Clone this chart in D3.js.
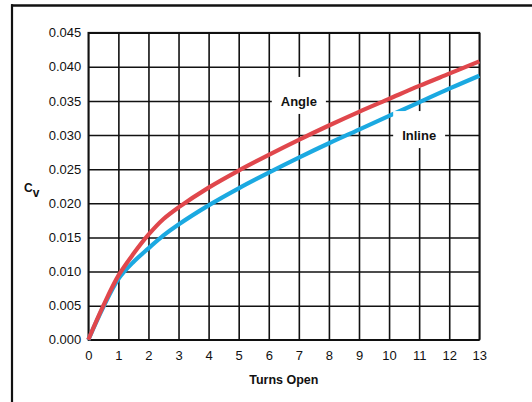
<html><head>
<script src="https://d3js.org/d3.v7.min.js"></script>
<style>
    body { margin: 0; background: #fff; }
    text { font-family: "Liberation Sans", Arial, sans-serif; }
</style>
</head>
<body>
<svg id="chart" width="532" height="402"></svg>
<script>
// values
const turns    = [0, 0.5, 1, 1.5, 2, 2.5, 3, 4, 5, 6, 7, 8, 9, 10, 11, 12, 13];
const angleCv  = [0, 0.0050, 0.0094, 0.0126, 0.0154, 0.0177, 0.0194, 0.0223, 0.0248, 0.0271, 0.0293, 0.0314, 0.0334, 0.0353, 0.0372, 0.0390, 0.0408];
const inlineCv = [0, 0.0048, 0.0089, 0.0114, 0.0134, 0.0153, 0.0169, 0.0197, 0.0222, 0.0245, 0.0267, 0.0288, 0.0308, 0.0328, 0.0348, 0.0368, 0.0387];
const xTicks = [0, 1, 2, 3, 4, 5, 6, 7, 8, 9, 10, 11, 12, 13];
const yTicks = [0, 0.005, 0.010, 0.015, 0.020, 0.025, 0.030, 0.035, 0.040, 0.045];
const seriesLabels = [
    {name: "Angle",  x: 7,  y: 0.035},
    {name: "Inline", x: 11, y: 0.030}
];

const svg = d3.select("#chart");
const margin = {left: 88.3, right: 52.7, top: 32.7, bottom: 62.2};
const w = 532 - margin.left - margin.right;
const h = 402 - margin.top - margin.bottom;

// outer frame: only top and left edges
svg.append("line").attr("x1", 11).attr("x2", 532).attr("y1", 5.5).attr("y2", 5.5)
    .attr("stroke", "#111").attr("stroke-width", 2.5);
svg.append("line").attr("x1", 12).attr("x2", 12).attr("y1", 4.3).attr("y2", 402)
    .attr("stroke", "#111").attr("stroke-width", 2.2);

const g = svg.append("g").attr("transform", `translate(${margin.left},${margin.top})`);

const x = d3.scaleLinear().domain([0, 13]).range([0, w]);
const y = d3.scaleLinear().domain([0, 0.045]).range([h, 0]);

// axes double as grid
const xAxis = g.append("g").attr("transform", `translate(0,${h})`)
    .call(d3.axisBottom(x).tickValues(xTicks).tickFormat(d3.format("d"))
        .tickSizeInner(-h).tickSizeOuter(0).tickPadding(10.5));
const yAxis = g.append("g")
    .call(d3.axisLeft(y).tickValues(yTicks).tickFormat(d3.format(".3f"))
        .tickSizeInner(-w).tickSizeOuter(0).tickPadding(7));

[xAxis, yAxis].forEach(a => {
    a.select(".domain").remove();
    a.selectAll("line").attr("stroke", "#111").attr("stroke-width", 1.6);
    a.selectAll("text").attr("font-size", 13).attr("fill", "#111")
        .attr("font-family", "\"Liberation Sans\", Arial, sans-serif");
});

g.append("rect").attr("width", w).attr("height", h)
    .attr("fill", "none").attr("stroke", "#111").attr("stroke-width", 1.6);

const line = d3.line()
    .x((d, i) => x(turns[i]))
    .y(d => y(d))
    .curve(d3.curveCatmullRom.alpha(0.5));

g.append("path").datum(inlineCv).attr("d", line)
    .attr("fill", "none").attr("stroke", "#1ba9e1").attr("stroke-width", 4.2);
g.append("path").datum(angleCv).attr("d", line)
    .attr("fill", "none").attr("stroke", "#e0474c").attr("stroke-width", 4.2);

// series labels sitting in white boxes over the grid
seriesLabels.forEach(l => {
    const lg = g.append("g").attr("transform", `translate(${x(l.x)},${y(l.y)})`);
    const t = lg.append("text").text(l.name)
        .attr("text-anchor", "middle").attr("y", 5)
        .attr("font-size", 13).attr("font-weight", "bold").attr("fill", "#111");
    const bw = t.node().getComputedTextLength();
    lg.insert("rect", "text")
        .attr("x", -bw / 2 - 9).attr("y", -24)
        .attr("width", bw + 18).attr("height", 37)
        .attr("fill", "#fff");
});

// axis titles
svg.append("text").attr("x", margin.left + w / 2).attr("y", 384)
    .attr("text-anchor", "middle").attr("font-size", 12.5).attr("font-weight", "bold")
    .attr("fill", "#111").text("Turns Open");

const cv = svg.append("text").attr("x", 24).attr("y", 191.5)
    .attr("font-size", 12).attr("font-weight", "bold").attr("fill", "#111");
cv.append("tspan").text("C");
cv.append("tspan").attr("dy", 5).text("v");
</script>
</body>
</html>
